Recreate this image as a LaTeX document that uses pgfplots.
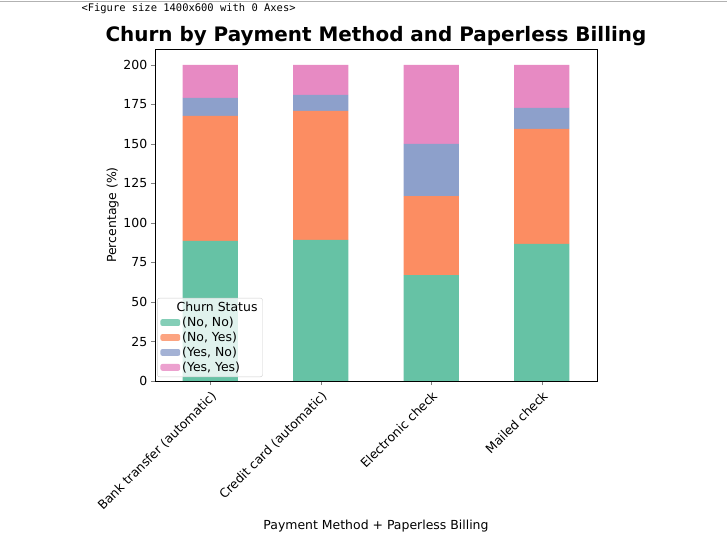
\documentclass[border=0pt]{standalone}
\usepackage{pgfplots}
\pgfplotsset{compat=1.18}
\usepackage{fontspec}
\setmainfont{DejaVu Sans}
\setmonofont{DejaVu Sans Mono}
\definecolor{c1}{HTML}{66C2A5}
\definecolor{c2}{HTML}{FC8D62}
\definecolor{c3}{HTML}{8DA0CB}
\definecolor{c4}{HTML}{E78AC3}
\begin{document}
\begin{tikzpicture}[x=1bp,y=1bp]
\path[use as bounding box] (0,0) rectangle (727,546);
\draw[black!30] (0,545) -- (727,545);
\node[anchor=west,font=\ttfamily\fontsize{10.5}{12}\selectfont] at (78,537) {<Figure size 1400x600 with 0 Axes>};
\begin{axis}[at={(155bp,165bp)},anchor=south west,
 scale only axis,width=442bp,height=332bp,
 ybar stacked,bar width=0.5,
 xmin=-0.5,xmax=3.5,ymin=0,ymax=210,
 xtick={0,1,2,3},
 xticklabels={Bank transfer (automatic),Credit card (automatic),Electronic check,Mailed check},
 xticklabel style={rotate=45,anchor=north east,font=\fontsize{12.5}{14}\selectfont},
 ytick={0,25,...,200},
 yticklabel style={font=\fontsize{12.5}{14}\selectfont},
 /pgf/number format/assume math mode=true,
 tick align=outside,tick pos=left,
 ylabel={Percentage (\%)},ylabel style={font=\fontsize{12.5}{14}\selectfont,yshift=-2bp},
 xlabel={Payment Method + Paperless Billing},xlabel style={font=\fontsize{12.5}{14}\selectfont},
 title={\bfseries Churn by Payment Method and Paperless Billing},
 title style={font=\fontsize{20}{23}\selectfont,yshift=-6bp},
 legend style={at={(0.005,0.012)},anchor=south west,font=\fontsize{12.5}{15}\selectfont,draw=black!20,rounded corners=2pt,fill opacity=0.8,text opacity=1,legend cell align=left},
 legend image code/.code={\draw[#1,draw=none] (0cm,-0.12cm) rectangle (0.7cm,0.12cm);},
]
\addlegendimage{empty legend}
\addlegendentry{\hspace{-0.2cm}Churn Status}
\addplot[fill=c1,draw=none] coordinates {(0,88.6) (1,89.2) (2,67) (3,86.7)};
\addlegendentry{(No, No)}
\addplot[fill=c2,draw=none] coordinates {(0,79.1) (1,81.7) (2,50) (3,72.8)};
\addlegendentry{(No, Yes)}
\addplot[fill=c3,draw=none] coordinates {(0,11.3) (1,10.1) (2,33) (3,13.3)};
\addlegendentry{(Yes, No)}
\addplot[fill=c4,draw=none] coordinates {(0,21) (1,19) (2,50) (3,27.2)};
\addlegendentry{(Yes, Yes)}
\end{axis}
\end{tikzpicture}
\end{document}
